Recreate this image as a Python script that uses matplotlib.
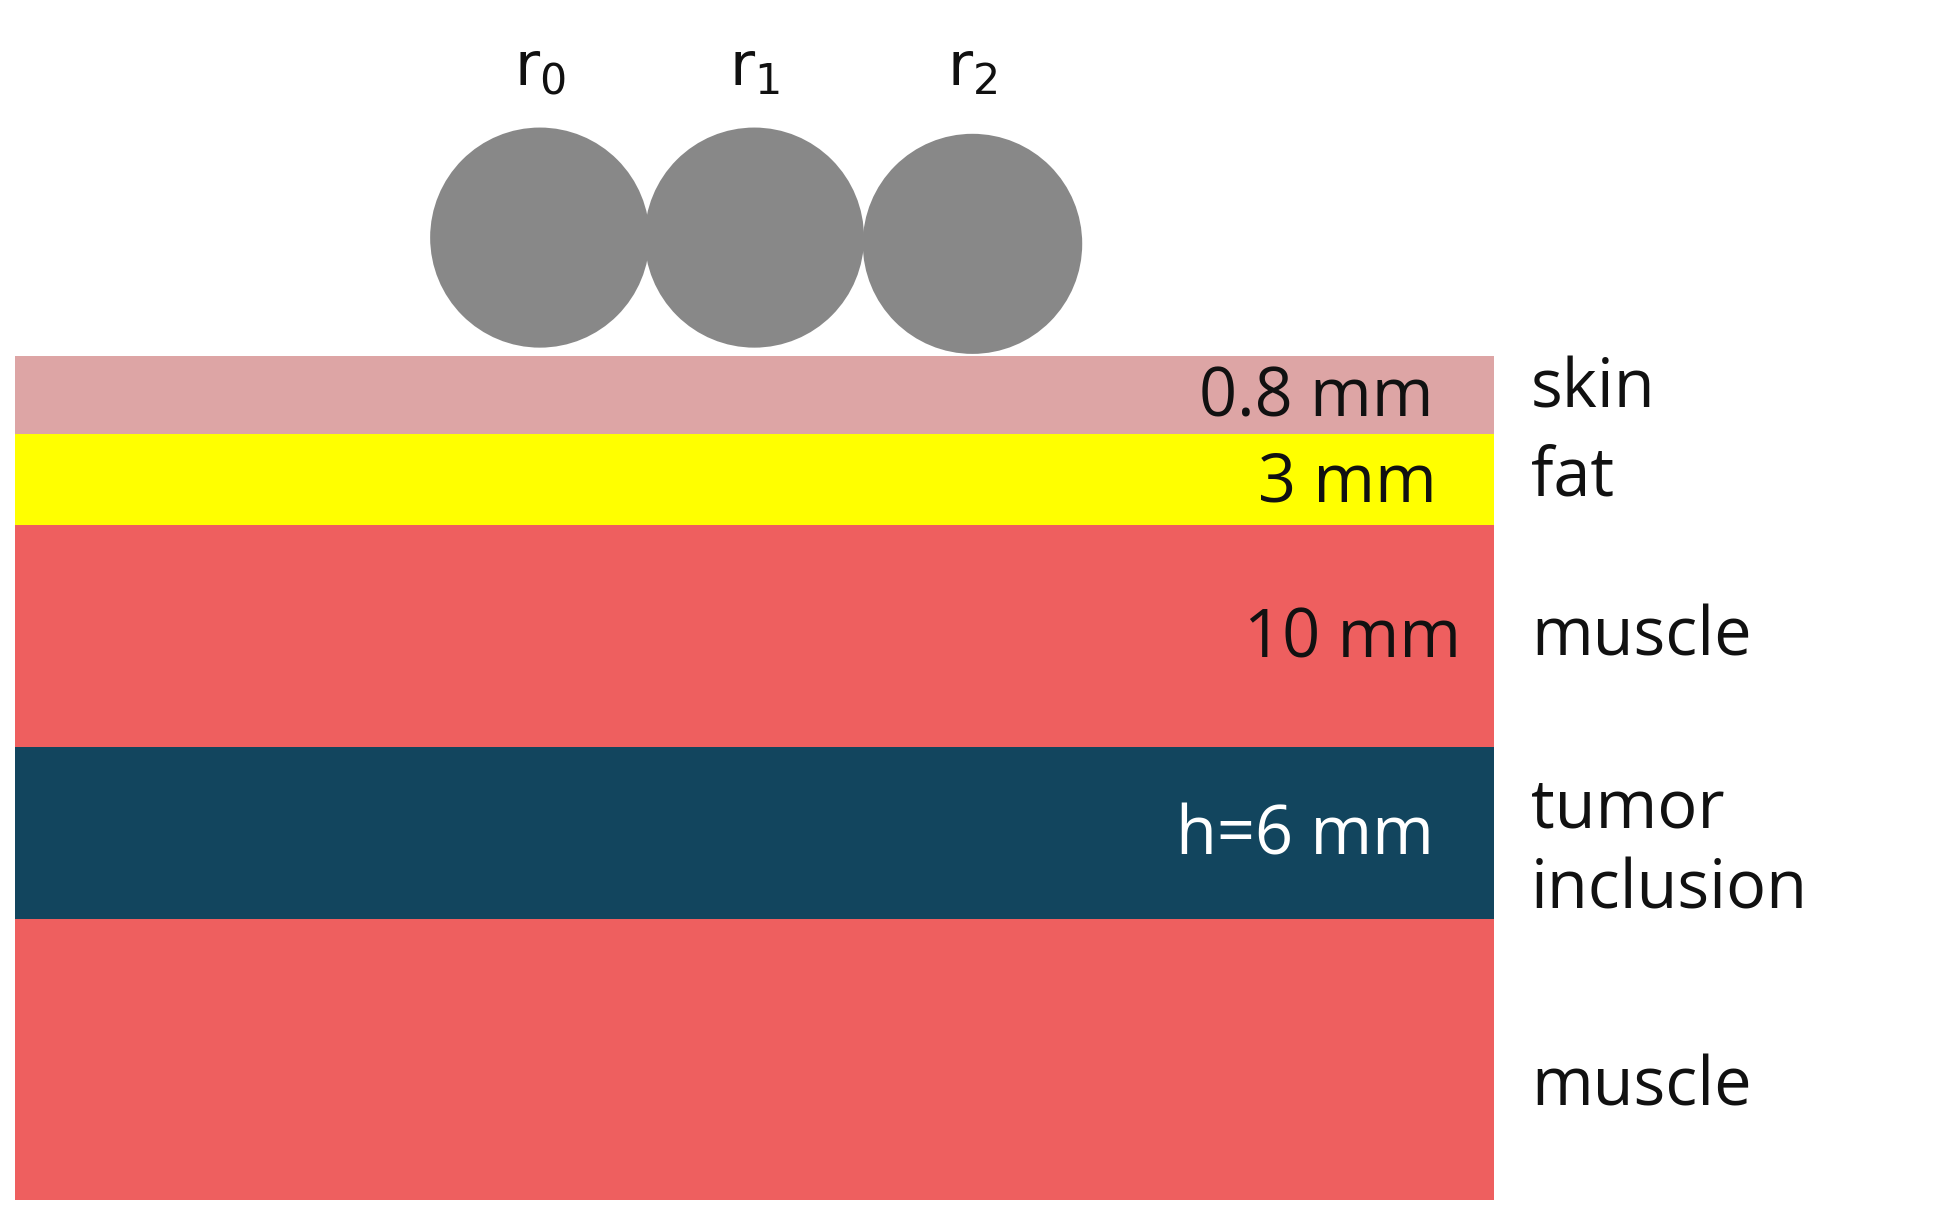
import matplotlib.pyplot as plt
from matplotlib.patches import Rectangle, Circle

# layer data (top/bottom in picture units, y down)
layer_tops = [285, 347, 420, 597, 735]
layer_bottoms = [347, 420, 597, 735, 960]
layer_colors = ['#dda5a5', '#ffff00', '#ee5f5f', '#12455e', '#ee5f5f']
layer_labels = ['0.8 mm', '3 mm', '10 mm', 'h=6 mm', '']
label_colors = ['#111111', '#111111', '#111111', 'white', '#111111']
label_x = [1150, 1152, 1172, 1150, 0]
tissue_names = ['skin', 'fat', 'muscle', 'tumor\ninclusion', 'muscle']
tissue_y = [312, 382, 510, 680, 870]

sensor_x = [433, 605, 780]
sensor_y = [190, 190, 195]
sensor_labels = [r'$\mathrm{r}_0$', r'$\mathrm{r}_1$', r'$\mathrm{r}_2$']

fig = plt.figure(figsize=(19.45, 12.13), dpi=100)
ax = fig.add_axes([0, 0, 1, 1])
ax.set_xlim(0, 1560)
ax.set_ylim(970, 0)
ax.axis('off')

for top, bot, c in zip(layer_tops, layer_bottoms, layer_colors):
    ax.add_patch(Rectangle((12, top), 1186, bot - top, color=c, lw=0))

for lab, top, bot, c, x in zip(layer_labels, layer_tops, layer_bottoms, label_colors, label_x):
    if lab:
        ax.text(x, (top + bot) / 2 + 3, lab, color=c, fontsize=48,
                ha='right', va='center', family='Open Sans')

for name, y in zip(tissue_names, tissue_y):
    ax.text(1228, y, name, fontsize=48, ha='left', va='center',
            family='Open Sans', linespacing=1.25, color='#111111')

for x, y, lab in zip(sensor_x, sensor_y, sensor_labels):
    ax.add_patch(Circle((x, y), 88, color='#888888', lw=0))
    ax.text(x, 55, lab, fontsize=44, ha='center', va='center', color='#111111')

fig.savefig('out.png', dpi=100)
